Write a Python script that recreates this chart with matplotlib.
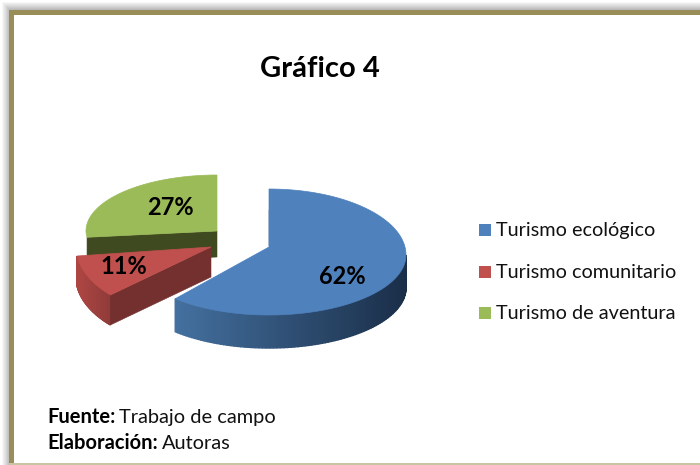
import numpy as np
import matplotlib
matplotlib.use("Agg")
import matplotlib.pyplot as plt
from matplotlib.patches import Polygon, Rectangle

labels = ["Turismo ecológico", "Turismo comunitario", "Turismo de aventura"]
shares = [62, 11, 27]
top_colors = ["#4f81bd", "#c0504d", "#9bbb59"]
pct_labels = ["62%", "11%", "27%"]

plt.rcParams["font.family"] = ["Lato", "DejaVu Sans"]

fig = plt.figure(figsize=(7, 4.65), dpi=100)
ax = fig.add_axes([0, 0, 1, 1])
ax.set_xlim(0, 700)
ax.set_ylim(465, 0)
ax.axis("off")

# soft shadow + olive frame
for i in range(8):
    g = 0.97 - 0.035 * i
    ax.add_patch(Rectangle((1.5 + i, 2.5 + i), 720, 480, fc=str(g), ec="none", zorder=1))
ax.add_patch(Rectangle((9, 10), 720, 453, fc="#998e58", ec="none", zorder=2))
ax.add_patch(Rectangle((14, 15), 720, 447.5, fc="white", ec="none", zorder=3))
ax.add_patch(Rectangle((9, 463), 720, 2, fc="#c9c4a3", ec="none", zorder=3))

# pie geometry, angles clockwise from 12 o'clock
cum = np.cumsum([0] + shares) / sum(shares) * 2 * np.pi
centers = [(269, 247), (211, 247), (217, 231)]
depths = [33, 30, 26]
# rx, ry up, ry down, y offset of the widest point (fake perspective)
shapes = [(137, 66, 60, 8), (135, 58, 72, 0), (131, 56, 50, 0)]


def rim(t, c, s):
    x = c[0] + s[0] * np.sin(t)
    cs = np.cos(t)
    y = c[1] + s[3] - np.where(cs > 0, s[1], s[2]) * cs
    return x, y


def mix(a, b, f):
    a = np.array(matplotlib.colors.to_rgb(a))
    b = np.array(matplotlib.colors.to_rgb(b))
    return tuple(a + (b - a) * f)


def shade_side(c, s, d, t0, t1, left_col, right_col, z):
    ts = np.linspace(t0, t1, 90)
    xs, ys = rim(ts, c, s)
    xmin, xmax = xs.min(), xs.max()
    # draw right to left so each strip covers the seam of the one before
    for k in np.argsort(-xs[:-1]):
        f = (0.5 * (xs[k] + xs[k + 1]) - xmin) / (xmax - xmin)
        col = mix(left_col, right_col, f)
        pts = [(xs[k], ys[k]), (xs[k + 1], ys[k + 1]), (xs[k + 1], ys[k + 1] + d), (xs[k], ys[k] + d)]
        ax.add_patch(Polygon(pts, fc=col, ec=col, lw=1.0, zorder=z))


def top_face(c, s, t0, t1, col, z):
    ts = np.linspace(t0, t1, 120)
    xs, ys = rim(ts, c, s)
    pts = [c] + list(zip(xs, ys))
    ax.add_patch(Polygon(pts, fc=col, ec=col, lw=0.5, zorder=z))


# green slice, furthest back
c, s, d = centers[2], shapes[2], depths[2]
xe, ye = rim(cum[2], c, s)
ax.add_patch(Polygon([c, (xe, ye), (xe, ye + d), (c[0], c[1] + d)], fc="#404a20", ec="#404a20", lw=0.4, zorder=5))
top_face(c, s, cum[2], cum[3], top_colors[2], 6)

# red slice, its near edge sits a bit further round than the blue one
c, s, d = centers[1], shapes[1], depths[1]
red_start = cum[1] + np.radians(5)
shade_side(c, s, d, red_start, cum[2], "#ad4643", "#8f3b39", 7)
xs, ys = rim(red_start, c, s)
ax.add_patch(Polygon([c, (xs, ys), (xs, ys + d), (c[0], c[1] + d)], fc="#73302e", ec="#73302e", lw=0.4, zorder=8))
top_face(c, s, red_start, cum[2], top_colors[1], 9)

# blue slice
c, s, d = centers[0], shapes[0], depths[0]
shade_side(c, s, d, np.pi / 2, cum[1], "#44709f", "#1a2e48", 10)
ax.plot([c[0], c[0]], [c[1] - 37, c[1] - 2], color="#1f3550", lw=1, zorder=10)
top_face(c, s, cum[0], cum[1], top_colors[0], 11)

# percent labels
pct_pos = [(342, 276), (124, 266), (170, 207)]
for (px, py), txt in zip(pct_pos, pct_labels):
    ax.text(px, py, txt, fontsize=17, fontweight="bold", color="black", ha="center", va="center", zorder=15)

ax.text(320, 69, "Gráfico 4", fontsize=21, fontweight="bold", ha="center", va="center", zorder=15)

# legend
legend_y = [230, 272, 313]
for yy, lab, col in zip(legend_y, labels, top_colors):
    ax.add_patch(Rectangle((479, yy - 6), 12, 12, fc=col, ec="none", zorder=15))
    ax.text(496, yy, lab, fontsize=14.3, color="#111111", ha="left", va="center", zorder=15)

# source notes
ax.text(47, 417, "Fuente:", fontsize=14.5, fontweight="bold", va="center", zorder=15)
ax.text(119, 417, "Trabajo de campo", fontsize=14.4, va="center", color="#111111", zorder=15)
ax.text(47, 443, "Elaboración:", fontsize=14.5, fontweight="bold", va="center", zorder=15)
ax.text(162, 443, "Autoras", fontsize=14.4, va="center", color="#111111", zorder=15)

fig.savefig("out.png", dpi=100)
